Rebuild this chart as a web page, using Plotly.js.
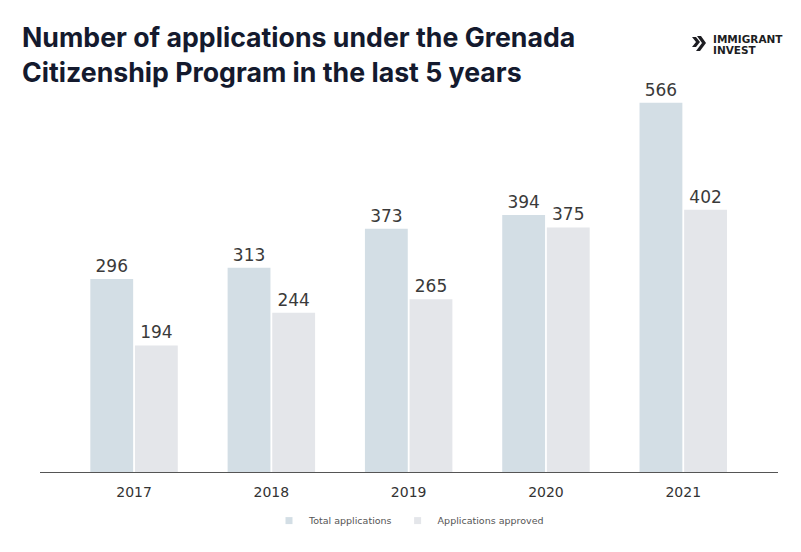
<!DOCTYPE html>
<html><head><meta charset="utf-8">
<script src="https://cdn.plot.ly/plotly-3.0.1.min.js"></script>
<style>body{margin:0;background:#fff}#c{width:801px;height:552px}</style>
</head><body><div id="c"></div>
<script>
const years = ['2017','2018','2019','2020','2021'];
const totalApplications = [296, 313, 373, 394, 566];
const approvedApplications = [194, 244, 265, 375, 402];
const seriesNames = ['Total applications', 'Applications approved'];
const seriesColors = ['#d3dee5', '#e4e6ea'];

const labelFont = {family: 'DejaVu Sans, sans-serif', size: 17, color: '#3a3a3a'};
const traces = [
  {type:'bar', name: seriesNames[0], x: years, y: totalApplications, showlegend: false,
   marker:{color: seriesColors[0]}, text: totalApplications.map(String), textposition:'outside',
   textfont: labelFont, cliponaxis:false, hoverinfo:'none'},
  {type:'bar', name: seriesNames[1], x: years, y: approvedApplications, showlegend: false,
   marker:{color: seriesColors[1]}, text: approvedApplications.map(String), textposition:'outside',
   textfont: labelFont, cliponaxis:false, hoverinfo:'none'},
  {type:'scatter', mode:'markers', name: seriesNames[0], x:[years[0]], y:[null],
   marker:{symbol:'square', size:7, color: seriesColors[0]}, hoverinfo:'none'},
  {type:'scatter', mode:'markers', name: seriesNames[1], x:[years[0]], y:[null],
   marker:{symbol:'square', size:7, color: seriesColors[1]}, hoverinfo:'none'}
];
const PL = 40, PT = 80, PW = 738, PH = 392;
const px = x => (x-PL)/PW, py = y => 1 - (y-PT)/PH;
function poly(pts){ return 'M ' + pts.map(p => px(p[0])+','+py(p[1])).join(' L ') + ' Z'; }
const layout = {
  width: 801, height: 552,
  margin: {l: PL, r: 801-PL-PW, t: PT, b: 552-PT-PH, autoexpand: false},
  paper_bgcolor: '#fff', plot_bgcolor: '#fff',
  barmode: 'group', bargap: 0.35, bargroupgap: 0.04,
  title: {text: 'Number of applications under the Grenada<br>Citizenship Program in the last 5 years',
    font: {family: 'Inter, sans-serif', size: 26.7, color: '#141a2e', weight: 700},
    x: 22/801, xanchor: 'left', xref: 'container', y: 1 - 47/552, yanchor: 'top', yref: 'container'},
  xaxis: {type: 'category', range: [-0.685, 4.69], showline: true, linecolor: '#555', linewidth: 1,
    ticks: 'outside', ticklen: 7, tickcolor: 'rgba(0,0,0,0)',
    tickfont: {family: 'DejaVu Sans, sans-serif', size: 14, color: '#333'}, fixedrange: true},
  yaxis: {range: [0, 601], visible: false, fixedrange: true},
  showlegend: true,
  legend: {orientation: 'h', x: 0.5, xanchor: 'center', y: -0.087, yanchor: 'top',
    font: {family: 'DejaVu Sans, sans-serif', size: 9.5, color: '#555'}, itemwidth: 30},
  annotations: [
    {xref: 'paper', yref: 'paper', x: px(711), y: py(39.5), xanchor: 'left', yanchor: 'middle',
     text: '<b>IMMIGRANT</b>', showarrow: false,
     font: {family: 'DejaVu Sans, sans-serif', size: 10.5, color: '#1d1d22'}},
    {xref: 'paper', yref: 'paper', x: px(711), y: py(50), xanchor: 'left', yanchor: 'middle',
     text: '<b>INVEST</b>', showarrow: false,
     font: {family: 'DejaVu Sans, sans-serif', size: 10.5, color: '#1d1d22'}}
  ],
  shapes: [
    {type: 'path', xref: 'paper', yref: 'paper',
     path: poly([[692,37],[696,37],[700,42],[696,47],[692,47],[696,42]]),
     fillcolor: '#1d1d22', line: {width: 0}},
    {type: 'path', xref: 'paper', yref: 'paper',
     path: poly([[697,36],[701,36],[706,43],[700,51],[696,51],[702,43]]),
     fillcolor: '#1d1d22', line: {width: 0}}
  ]
};
Plotly.newPlot('c', traces, layout, {displayModeBar: false, staticPlot: true});
</script></body></html>
